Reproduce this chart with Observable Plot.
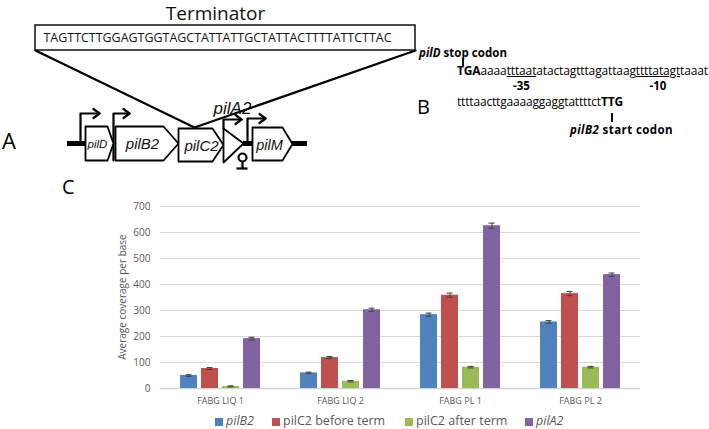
<!DOCTYPE html>
<html><head><meta charset="utf-8">
<script src="https://cdn.jsdelivr.net/npm/d3@7"></script>
<script src="https://cdn.jsdelivr.net/npm/@observablehq/plot@0.6"></script>
<style>
body{margin:0;background:#fff;}
#wrap{position:relative;width:709px;height:429px;overflow:hidden;font-family:"Open Sans",sans-serif;color:#000;}
.abs{position:absolute;white-space:nowrap;line-height:1;}
svg{position:absolute;left:0;}
</style></head><body><div id="wrap"></div>
<script>
// ---- chart data (panel C) ----
const samples = ["FABG LIQ 1", "FABG LIQ 2", "FABG PL 1", "FABG PL 2"];
const series = ["pilB2", "pilC2 before term", "pilC2 after term", "pilA2"];
const seriesItalic = [true, false, false, true];
const seriesColors = ["#4f81bd", "#c0504d", "#9bbb59", "#8064a2"];
const pilB2Values = [50, 60, 284, 256];
const pilC2BeforeValues = [77, 119, 359, 365];
const pilC2AfterValues = [8, 28, 82, 82];
const pilA2Values = [192, 303, 626, 438];
const pilB2Err = [3, 3, 6, 5];
const pilC2BeforeErr = [4, 4, 8, 8];
const pilC2AfterErr = [2, 3, 3, 3];
const pilA2Err = [5, 6, 10, 6];
const yTicks = [0, 100, 200, 300, 400, 500, 600, 700];
const yLabel = "Average coverage per base";

// ---- diagram data (panel A) ----
const terminatorTitle = "Terminator";
const terminatorSeq = "TAGTTCTTGGAGTGGTAGCTATTATTGCTATTACTTTTATTCTTAC";
const genes = [
  {name: "pilD",  x1: 85,  x2: 107, tip: 113, top: 126, bottom: 160, cx: 97,  size: 11.5},
  {name: "pilB2", x1: 115, x2: 163, tip: 178, top: 126, bottom: 160, cx: 142, size: 15},
  {name: "pilC2", x1: 178, x2: 212, tip: 223, top: 128, bottom: 161, cx: 201, size: 15},
  {name: "pilM",  x1: 252, x2: 282, tip: 292, top: 127, bottom: 160, cx: 269, size: 14.5}
];
const backbone = [[67, 85], [243, 252], [292, 307]];
const backboneY = 143;
const promoters = [
  {x: 80,  yBase: 143, yTop: 113, xEnd: 99},
  {x: 113, yBase: 160, yTop: 113, xEnd: 129},
  {x: 223, yBase: 128, yTop: 119, xEnd: 241},
  {x: 247, yBase: 143, yTop: 118, xEnd: 265}
];
const pilA2Triangle = [[223, 128], [243, 143], [223, 162]];
const terminatorSymbol = {x: 242, y: 157, r: 4, stemEnd: 168, baseHalf: 5.5};
const seqBox = {x1: 35, x2: 415, y1: 25, y2: 50};
const funnelApex = [194, 127];

// ---- panel B text ----
const stopLabel = ["pilD", " stop codon"];
const seqLine1 = [["TGA", "b"], ["aaaa", ""], ["tttaat", "u"], ["atactagtttagattaag", ""], ["ttttatagt", "u"], ["taaat", ""]];
const boxLabels = ["-35", "-10"];
const seqLine2 = [["ttttaacttgaaaaggaggtattttct", ""], ["TTG", "b"]];
const startLabel = ["pilB2", " start codon"];
const panelLetters = ["A", "B", "C"];

const wrap = document.getElementById("wrap");

// ================= Diagram (Plot with identity scales) =================
const polys = [];
genes.forEach(g => {
  const my = (g.top + g.bottom) / 2;
  [[g.x1, g.top], [g.x2, g.top], [g.tip, my], [g.x2, g.bottom], [g.x1, g.bottom], [g.x1, g.top]]
    .forEach(([x, y]) => polys.push({id: g.name, x, y}));
});
pilA2Triangle.concat([pilA2Triangle[0]]).forEach(([x, y]) => polys.push({id: "pilA2", x, y}));

const promoterLines = [];
promoters.forEach((p, i) => {
  [[p.x, p.yBase], [p.x, p.yTop], [p.xEnd, p.yTop]].forEach(([x, y]) => promoterLines.push({id: "p" + i, x, y}));
  [[p.xEnd - 6, p.yTop - 4.5], [p.xEnd, p.yTop], [p.xEnd - 6, p.yTop + 4.5]].forEach(([x, y]) => promoterLines.push({id: "h" + i, x, y}));
});
const funnel = [
  {x: seqBox.x1, y: seqBox.y2}, {x: funnelApex[0], y: funnelApex[1]}, {x: seqBox.x2, y: seqBox.y2}
];
const bb = backbone.map(([a, b]) => ({x1: a, x2: b}));
const ts = terminatorSymbol;

const diagram = Plot.plot({
  width: 709, height: 180, margin: 0,
  x: {type: "identity", axis: null}, y: {type: "identity", axis: null},
  style: {background: "transparent", overflow: "visible", fontFamily: "'Open Sans', sans-serif"},
  marks: [
    Plot.line(funnel, {x: "x", y: "y", stroke: "black", strokeWidth: 2.2}),
    Plot.rect([seqBox], {x1: "x1", x2: "x2", y1: "y1", y2: "y2", fill: "white", stroke: "black", strokeWidth: 1.4}),
    Plot.text([terminatorTitle], {x: 215, y: 13.5, text: d => d, fontSize: 19, fill: "#111"}),
    Plot.text([terminatorSeq], {x: 43, y: 37.5, text: d => d, textAnchor: "start", fontSize: 12, fill: "#111"}),
    Plot.ruleY(bb, {x1: "x1", x2: "x2", y: backboneY, stroke: "black", strokeWidth: 5}),
    Plot.line(promoterLines, {x: "x", y: "y", z: "id", stroke: "black", strokeWidth: 2.2}),
    Plot.line(polys, {x: "x", y: "y", z: "id", fill: "white", stroke: "black", strokeWidth: 1.8}),
    Plot.dot([ts], {x: "x", y: "y", r: ts.r, stroke: "black", strokeWidth: 2.2, fill: "white"}),
    Plot.ruleX([ts], {x: "x", y1: ts.y + ts.r, y2: ts.stemEnd, stroke: "black", strokeWidth: 2.2}),
    Plot.ruleY([ts], {x1: ts.x - ts.baseHalf, x2: ts.x + ts.baseHalf, y: ts.stemEnd, stroke: "black", strokeWidth: 2.2}),
    Plot.text(genes, {x: "cx", y: d => (d.top + d.bottom) / 2 + 1, text: "name", fontSize: d => d.size, fontStyle: "italic", fontFamily: "'Liberation Sans', Arial, sans-serif", fill: "#111"}),
    Plot.text(["pilA2"], {x: 232, y: 108, text: d => d, fontSize: 17, fontStyle: "italic", fontFamily: "'Liberation Sans', Arial, sans-serif", fill: "#111"})
  ]
});
diagram.style.top = "0px";
wrap.appendChild(diagram);
d3.select(diagram).selectAll("text").filter(function() { return this.textContent === terminatorSeq; })
  .attr("textLength", 348).attr("lengthAdjust", "spacingAndGlyphs");

// ================= Chart (panel C) =================
const valueSets = [pilB2Values, pilC2BeforeValues, pilC2AfterValues, pilA2Values];
const errSets = [pilB2Err, pilC2BeforeErr, pilC2AfterErr, pilA2Err];
const rows = [];
samples.forEach((s, i) => series.forEach((name, j) => rows.push({sample: s, series: name, value: valueSets[j][i], err: errSets[j][i]})));

const chartTop = 180;
const chart = Plot.plot({
  width: 709, height: 235,
  marginTop: 26, marginBottom: 27, marginLeft: 160, marginRight: 69,
  style: {fontFamily: "'Open Sans', sans-serif", fontSize: "10px", color: "#595959", background: "transparent", overflow: "visible"},
  fx: {domain: samples, padding: 0, axis: null, label: null},
  x: {domain: series, paddingInner: 0.2, paddingOuter: 0.83, axis: null},
  y: {domain: [0, 700], ticks: yTicks, tickSize: 0, tickPadding: 10, label: null},
  color: {domain: series, range: seriesColors},
  marks: [
    Plot.ruleY(yTicks.filter(t => t > 0), {stroke: "#d9d9d9", strokeWidth: 1}),
    Plot.ruleY([0], {stroke: "#d4d4d4", strokeWidth: 1.5}),
    Plot.barY(rows, {fx: "sample", x: "series", y: "value", fill: "series"}),
    Plot.ruleX(rows, {fx: "sample", x: "series", y1: d => d.value - d.err, y2: d => d.value + d.err, stroke: "#404040", strokeWidth: 1}),
    Plot.tickY(rows, {fx: "sample", x: "series", y: d => d.value + d.err, stroke: "#404040", strokeWidth: 1, insetLeft: 5.5, insetRight: 5.5}),
    Plot.tickY(rows, {fx: "sample", x: "series", y: d => d.value - d.err, stroke: "#404040", strokeWidth: 1, insetLeft: 5.5, insetRight: 5.5}),
    Plot.text(samples, {fx: d => d, text: d => d, frameAnchor: "bottom", dy: 15, fontSize: 9, fill: "#595959"})
  ]
});
chart.style.top = chartTop + "px";
wrap.appendChild(chart);

// ================= HTML texts =================
function addText(html, left, cy, size, opts = {}) {
  const el = document.createElement("div");
  el.className = "abs";
  el.innerHTML = html;
  el.style.fontSize = size + "px";
  el.style.left = left + "px";
  el.style.top = (cy - 0.55 * size) + "px";
  if (opts.weight) el.style.fontWeight = opts.weight;
  if (opts.color) el.style.color = opts.color;
  if (opts.family) el.style.fontFamily = opts.family;
  wrap.appendChild(el);
  if (opts.center) el.style.left = (left - el.getBoundingClientRect().width / 2) + "px";
  if (opts.fit) {
    const nat = el.getBoundingClientRect().width;
    const n = el.textContent.length;
    el.style.letterSpacing = ((opts.fit - nat) / n) + "px";
  }
  return el;
}
function addTick(x, y1, y2) {
  const el = document.createElement("div");
  el.className = "abs";
  el.style.left = (x - 1) + "px"; el.style.top = y1 + "px";
  el.style.width = "2px"; el.style.height = (y2 - y1) + "px"; el.style.background = "#111";
  wrap.appendChild(el);
}
const fmt = parts => parts.map(([t, s]) => s === "b" ? `<b>${t}</b>` : s === "u" ? `<u>${t}</u>` : t).join("");

// panel letters
addText(panelLetters[0], 2, 141, 22);
addText(panelLetters[1], 417, 108, 20);
addText(panelLetters[2], 62, 188, 20);

// panel B
addText(`<i>${stopLabel[0]}</i>${stopLabel[1]}`, 419, 53, 11.5, {weight: 700, fit: 88});
addTick(463, 58, 66);
const line1 = addText(fmt(seqLine1), 457, 72, 12, {fit: 251});
line1.style.lineHeight = "12px";
// place -35 / -10 centred under the underlined boxes
const uRects = Array.from(line1.querySelectorAll("u")).map(u => u.getBoundingClientRect());
boxLabels.forEach((lab, i) => {
  const cx = uRects[i].left + uRects[i].width / 2;
  addText(lab, cx, 86.5, 11.5, {weight: 700, center: true});
});
addText(fmt(seqLine2), 457, 103, 12, {fit: 166});
addTick(612, 113, 122);
addText(`<i>${startLabel[0]}</i>${startLabel[1]}`, 570, 130, 11.5, {weight: 700, fit: 103});

// y label
const yl = addText(yLabel, 122, 297, 10, {color: "#595959"});
const w = yl.getBoundingClientRect().width;
yl.style.left = (122 - w / 2) + "px";
yl.style.transform = "rotate(-90deg)";

// legend
const legendX = [215, 272, 405, 525];
series.forEach((s, i) => {
  const sq = document.createElement("div");
  sq.className = "abs";
  sq.style.left = legendX[i] + "px"; sq.style.top = "418px";
  sq.style.width = "8px"; sq.style.height = "8px"; sq.style.background = seriesColors[i];
  wrap.appendChild(sq);
  addText(seriesItalic[i] ? `<i>${s}</i>` : s, legendX[i] + 11, 422, 12.5, {color: "#595959"});
});
</script></body></html>
